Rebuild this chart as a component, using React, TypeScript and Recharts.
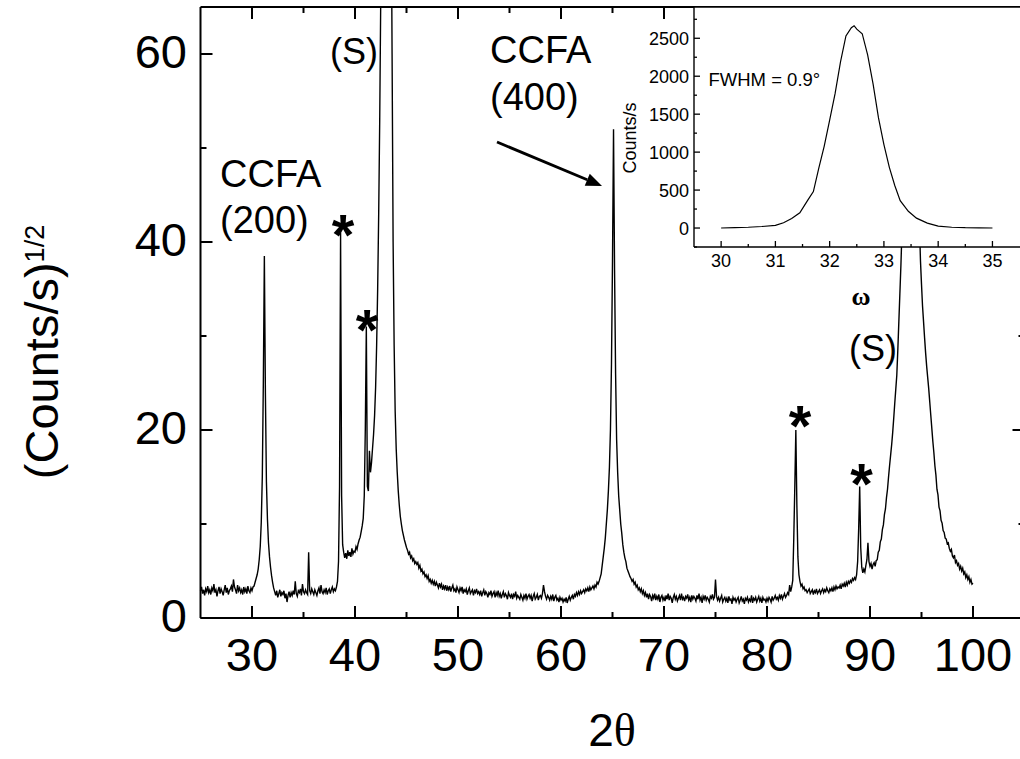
import { LineChart, Line, XAxis, YAxis, ReferenceLine, CartesianGrid } from 'recharts'

// XRD 2θ scan, sqrt(counts/s) on a 0.1° grid from 25° to 100°
const scanStart = 25
const scanStep = 0.1

const sqrt25to30 = [
  2.9, 3.3, 2.6, 3.0, 2.4, 3.1, 2.8, 3.4, 2.7, 3.0,
  2.5, 3.2, 2.9, 3.6, 2.7, 3.0, 2.3, 2.9, 3.3, 2.6,
  3.1, 2.8, 2.4, 3.0, 3.5, 2.7, 3.2, 2.5, 2.9, 3.1,
  3.4, 2.8, 4.1, 3.3, 3.0, 2.6, 3.5, 2.9, 3.2, 2.7,
  3.0, 2.5, 3.3, 2.8, 3.1, 2.6, 3.4, 2.9, 2.7, 3.2,
]
const sqrt30to35 = [
  2.9, 3.3, 3.4, 3.8, 4.2, 4.6, 5.2, 6.2, 7.6, 10.2,
  15, 25, 38.5, 24, 14.5, 10.5, 8, 6.5, 5.4, 4.5,
  3.8, 3.2, 2.8, 2.4, 2.9, 2.2, 2.6, 3.0, 2.3, 2.7,
  2.5, 2.9, 2.1, 2.6, 1.7, 2.4, 2.8, 2.2, 2.7, 2.4,
  2.9, 2.5, 3.9, 2.6, 2.3, 2.9, 2.7, 3.1, 2.4, 3.6,
]
const sqrt35to40 = [
  2.8, 2.6, 3.0, 2.7, 2.5, 7.0, 2.9, 2.6, 3.1, 2.8,
  2.5, 3.0, 2.7, 2.4, 2.9, 3.2, 2.6, 3.5, 2.8, 2.6,
  3.0, 2.7, 3.2, 2.5, 2.9, 3.1, 2.6, 3.0, 3.3, 2.8,
  3.1, 2.9, 3.3, 3.9, 6.0, 14, 41, 13, 7.8, 7.0,
  6.4, 6.9, 6.3, 7.2, 6.6, 7.0, 6.5, 7.4, 6.8, 7.1,
]
const sqrt40to45 = [
  7.0, 7.6, 7.3, 7.9, 8.3, 8.6, 9.2, 9.8, 10.6, 13,
  20, 31, 14, 13.5, 17.8, 15.5, 16.5, 18, 19.5, 21.5,
  24.5, 29, 35, 43, 53, 66, 82, 105, 140, 190,
  240, 250, 220, 170, 120, 80, 60, 40, 29, 22,
  18, 15.5, 13.5, 12, 10.8, 10, 9.3, 8.8, 8.3, 7.9,
]
const sqrt45to50 = [
  7.5, 7.2, 6.8, 7.0, 6.4, 6.6, 6.1, 6.3, 5.8, 6.0,
  5.7, 5.9, 5.3, 5.6, 5.0, 5.2, 4.7, 4.9, 4.4, 4.6,
  4.2, 4.5, 3.9, 4.1, 3.7, 4.0, 3.6, 3.9, 3.4, 3.8,
  3.5, 3.2, 3.7, 3.3, 3.6, 3.0, 3.4, 3.1, 3.5, 2.9,
  3.3, 3.0, 3.4, 2.8, 3.2, 3.5, 2.9, 3.1, 2.7, 3.3,
]
const sqrt50to55 = [
  3.0, 2.7, 3.2, 2.9, 3.3, 2.6, 3.0, 2.8, 3.1, 2.5,
  2.9, 3.2, 2.6, 2.8, 3.0, 2.4, 2.9, 2.7, 3.1, 2.6,
  2.8, 2.5, 2.9, 2.3, 2.7, 3.0, 2.4, 2.8, 2.6, 2.2,
  2.7, 2.5, 2.9, 2.3, 2.6, 2.8, 2.2, 2.7, 2.4, 2.9,
  2.3, 2.6, 2.1, 2.5, 2.8, 2.2, 2.6, 2.4, 2.0, 2.7,
]
const sqrt55to60 = [
  2.4, 2.2, 2.6, 2.0, 2.5, 2.3, 2.8, 2.1, 2.4, 2.2,
  2.0, 2.5, 2.2, 1.9, 2.4, 2.1, 2.6, 2.0, 2.3, 2.5,
  2.1, 2.4, 1.8, 2.3, 2.6, 2.0, 2.2, 2.5, 1.9, 2.3,
  2.4, 2.1, 2.6, 3.5, 2.8, 2.3, 2.0, 2.4, 2.2, 1.9,
  2.3, 2.0, 2.5, 1.8, 2.2, 2.4, 1.9, 2.1, 1.7, 2.2,
]
const sqrt60to65 = [
  1.9, 2.1, 1.7, 2.0, 1.8, 2.2, 1.6, 2.0, 2.3, 1.9,
  2.2, 2.4, 2.0, 2.5, 2.3, 2.7, 2.4, 2.8, 2.5, 2.9,
  2.6, 2.8, 3.0, 2.7, 3.1, 2.9, 3.2, 2.8, 3.3, 3.0,
  3.2, 3.4, 3.1, 3.5, 3.3, 3.8, 3.6, 3.9, 4.3, 4.7,
  5.6, 6.5, 7.4, 8.5, 10, 11.5, 13.5, 16, 20, 27,
]
const sqrt65to70 = [
  38, 52, 37, 26, 19, 15.5, 13, 11.5, 10, 9,
  7.8, 7.0, 6.4, 6.0, 5.3, 5.0, 4.7, 4.4, 4.2, 3.9,
  4.1, 3.6, 3.8, 3.3, 3.5, 3.0, 3.2, 2.8, 3.1, 2.6,
  2.9, 2.4, 2.7, 2.2, 2.6, 2.0, 2.5, 2.3, 1.8, 2.4,
  2.1, 2.6, 1.9, 2.3, 2.0, 2.5, 1.7, 2.2, 2.4, 1.9,
]
const sqrt70to75 = [
  2.2, 1.8, 2.4, 2.0, 2.6, 1.9, 2.3, 2.1, 1.6, 2.2,
  2.5, 2.0, 2.3, 1.8, 2.1, 2.4, 1.9, 2.6, 2.0, 2.2,
  1.8, 2.3, 2.1, 2.5, 1.9, 2.2, 1.7, 2.4, 2.0, 2.3,
  2.1, 1.8, 2.4, 2.0, 2.6, 1.9, 2.2, 1.6, 2.3, 2.0,
  2.4, 1.9, 2.2, 2.0, 1.7, 2.3, 2.1, 2.5, 2.0, 2.2,
]
const sqrt75to80 = [
  4.1, 2.3, 1.9, 2.2, 1.8, 2.1, 2.4, 1.7, 2.0, 2.2,
  1.8, 2.1, 1.6, 2.3, 1.9, 2.0, 1.5, 2.2, 1.9, 2.1,
  1.7, 2.0, 2.2, 1.6, 1.9, 2.3, 1.8, 2.0, 1.5, 2.1,
  1.9, 2.2, 1.7, 2.0, 1.8, 2.4, 1.6, 2.1, 1.9, 2.2,
  1.7, 2.0, 2.3, 1.8, 2.1, 1.6, 2.2, 1.9, 2.0, 1.7,
]
const sqrt80to85 = [
  2.1, 1.8, 2.2, 2.0, 1.7, 2.3, 1.9, 2.1, 2.4, 2.0,
  2.2, 1.9, 2.4, 2.1, 2.5, 2.0, 2.3, 2.6, 2.2, 2.4,
  2.7, 2.5, 3.5, 2.8, 3.3, 4.0, 8.5, 14, 20, 12,
  6.5, 4.6, 3.9, 3.4, 3.6, 3.1, 3.3, 2.9, 3.0, 2.7,
  2.9, 3.1, 2.6, 2.8, 3.0, 2.5, 2.9, 2.7, 3.1, 2.6,
]
const sqrt85to90 = [
  2.8, 3.0, 2.6, 2.9, 3.1, 2.7, 3.0, 2.8, 3.2, 2.9,
  2.7, 3.1, 2.9, 3.2, 2.8, 3.3, 3.0, 3.4, 3.1, 3.3,
  3.2, 3.5, 3.1, 3.6, 3.4, 3.7, 3.3, 3.8, 3.5, 3.9,
  3.7, 4.0, 3.8, 4.2, 4.0, 4.3, 4.1, 4.6, 6.0, 9.5,
  14, 7.5, 5.4, 4.8, 5.2, 4.9, 5.6, 6.2, 8.0, 6.0,
]
const sqrt90to95 = [
  5.5, 5.8, 5.2, 5.7, 5.9, 5.5, 6.1, 6.2, 7.0, 7.2,
  8.1, 8.4, 9.4, 9.9, 11.0, 11.6, 12.8, 13.7, 15.0, 16.2,
  17.3, 18.4, 19.7, 21.2, 22.8, 24.3, 25.8, 28.5, 31.5, 34.5,
  37.5, 41, 46, 53, 62, 75, 90, 110, 130, 145,
  150, 145, 130, 112, 92, 75, 60, 50, 42, 38,
]
const sqrt95to100 = [
  35.5, 33.2, 31.5, 29.8, 28.2, 26.8, 25.6, 24.4, 23.0, 21.6,
  20.2, 18.8, 17.6, 16.2, 15.2, 13.7, 13.1, 11.8, 11.4, 10.4,
  10.1, 9.3, 9.1, 8.5, 8.4, 7.9, 8.0, 7.4, 7.1, 7.3,
  6.6, 6.4, 6.7, 5.9, 6.1, 5.6, 5.8, 5.2, 5.5, 5.0,
  5.3, 4.7, 4.9, 4.3, 4.6, 4.1, 4.4, 3.8, 4.1, 3.6,
  3.7,
]

const sqrtCounts = [
  ...sqrt25to30, ...sqrt30to35, ...sqrt35to40, ...sqrt40to45, ...sqrt45to50,
  ...sqrt50to55, ...sqrt55to60, ...sqrt60to65, ...sqrt65to70, ...sqrt70to75,
  ...sqrt75to80, ...sqrt80to85, ...sqrt85to90, ...sqrt90to95, ...sqrt95to100,
]

// inset: rocking curve of the (400) reflection
const omega = [
  30, 30.25, 30.5, 30.75, 31, 31.15, 31.3, 31.45, 31.6, 31.7, 31.8, 31.9,
  32.0, 32.1, 32.2, 32.3, 32.4, 32.45, 32.5, 32.6, 32.7, 32.8, 32.9, 33.0,
  33.1, 33.2, 33.3, 33.45, 33.6, 33.8, 34.0, 34.25, 34.5, 34.75, 35,
]
const rockingCounts = [
  0, 4, 10, 20, 35, 70, 125, 200, 370, 480, 790, 1080,
  1420, 1770, 2190, 2530, 2640, 2665, 2620, 2560, 2280, 1900, 1450, 1100,
  800, 560, 360, 220, 130, 65, 25, 10, 4, 2, 0,
]

const xTicks = [30, 35, 40, 45, 50, 55, 60, 65, 70, 75, 80, 85, 90, 95, 100]
const yTicks = [0, 10, 20, 30, 40, 50, 60]
const insetXTicks = [30, 30.5, 31, 31.5, 32, 32.5, 33, 33.5, 34, 34.5, 35]
const insetYTicks = [-250, 0, 250, 500, 750, 1000, 1250, 1500, 1750, 2000, 2250, 2500, 2750]

const scan = sqrtCounts.map((v, i) => ({ twoTheta: +(scanStart + i * scanStep).toFixed(1), v }))
const rocking = omega.map((w, i) => ({ omega: w, counts: rockingCounts[i] }))

const FONT = '"Liberation Sans", Arial, sans-serif'
const SERIF = '"Liberation Serif", "Times New Roman", serif'

const W = 1030
const H = 759
const PLOT_TOP = 7
const PLOT_BOTTOM = 618
const PLOT_LEFT = 200.5
const PLOT_RIGHT = 1024.5
const INSET_LEFT = 694
const INSET_BOTTOM = 247
const INSET_RIGHT = 1025

function MainXTick({ x, y, payload }: any) {
  const v = payload.value
  const major = v % 10 === 0
  const len = major ? 12 : 6
  return (
    <g>
      <line x1={x} y1={y} x2={x} y2={y - len} stroke="#000" strokeWidth={2} />
      <line x1={x} y1={PLOT_TOP} x2={x} y2={PLOT_TOP + len} stroke="#000" strokeWidth={2} />
      {major && (
        <text x={x} y={y + 53} textAnchor="middle" fontSize={47} fontFamily={FONT} fill="#000">
          {v}
        </text>
      )}
    </g>
  )
}

function MainYTick({ x, y, payload }: any) {
  const v = payload.value
  const major = v % 20 === 0
  const len = major ? 12 : 6
  return (
    <g>
      <line x1={x} y1={y} x2={x + len} y2={y} stroke="#000" strokeWidth={2} />
      <line x1={PLOT_RIGHT} y1={y} x2={PLOT_RIGHT - len} y2={y} stroke="#000" strokeWidth={2} />
      {major && (
        <text x={x - 13.5} y={y + 14} textAnchor="end" fontSize={47} fontFamily={FONT} fill="#000">
          {v}
        </text>
      )}
    </g>
  )
}

function InsetXTick({ x, y, payload }: any) {
  const v = payload.value
  const major = v % 1 === 0
  return (
    <g>
      <line x1={x} y1={y} x2={x} y2={y - (major ? 6 : 3)} stroke="#000" strokeWidth={1.3} />
      {major && (
        <text x={x} y={y + 20} textAnchor="middle" fontSize={18} fontFamily={FONT} fill="#000">
          {v}
        </text>
      )}
    </g>
  )
}

function InsetYTick({ x, y, payload }: any) {
  const v = payload.value
  const major = v % 500 === 0
  return (
    <g>
      <line x1={x} y1={y} x2={x + (major ? 6 : 3)} y2={y} stroke="#000" strokeWidth={1.3} />
      {major && (
        <text x={x - 5} y={y + 6.5} textAnchor="end" fontSize={18} fontFamily={FONT} fill="#000">
          {v}
        </text>
      )}
    </g>
  )
}

function Arrow({ x1, y1, x2, y2 }: { x1: number; y1: number; x2: number; y2: number }) {
  const dx = x2 - x1
  const dy = y2 - y1
  const len = Math.hypot(dx, dy)
  const ux = dx / len
  const uy = dy / len
  const bx = x2 - ux * 16
  const by = y2 - uy * 16
  return (
    <g>
      <line x1={x1} y1={y1} x2={bx} y2={by} stroke="#000" strokeWidth={2.8} />
      <polygon
        points={`${x2},${y2} ${bx - uy * 6.5},${by + ux * 6.5} ${bx + uy * 6.5},${by - ux * 6.5}`}
        fill="#000"
      />
    </g>
  )
}

const labelStyle = { fontFamily: FONT, fill: '#000' }

export default function App() {
  return (
    <div style={{ position: 'fixed', left: 0, top: 0, width: 1020, height: 759, overflow: 'hidden', background: '#fff' }}>
      <div style={{ position: 'absolute', left: 0, top: 0 }}>
        <LineChart
          width={W}
          height={H}
          data={scan}
          margin={{ top: PLOT_TOP, right: W - PLOT_RIGHT, bottom: 0, left: 0 }}
        >
          <XAxis
            dataKey="twoTheta"
            type="number"
            domain={[25, 105]}
            ticks={xTicks}
            interval={0}
            height={H - PLOT_BOTTOM}
            tickSize={0}
            tickMargin={0}
            tickLine={false}
            axisLine={{ stroke: '#000', strokeWidth: 2 }}
            tick={(p: any) => <MainXTick {...p} />}
          />
          <YAxis
            type="number"
            domain={[0, 65]}
            allowDataOverflow
            ticks={yTicks}
            interval={0}
            width={PLOT_LEFT}
            tickSize={0}
            tickMargin={0}
            tickLine={false}
            axisLine={{ stroke: '#000', strokeWidth: 2 }}
            tick={(p: any) => <MainYTick {...p} />}
          />
          <ReferenceLine y={65} stroke="#000" strokeWidth={2} />
          <ReferenceLine x={105} stroke="#000" strokeWidth={2} />
          <Line
            type="linear"
            dataKey="v"
            stroke="#000"
            strokeWidth={1.4}
            dot={false}
            isAnimationActive={false}
          />
        </LineChart>
      </div>

      <div style={{ position: 'absolute', left: 0, top: 0 }}>
        <LineChart
          width={W}
          height={H}
          data={rocking}
          margin={{ top: PLOT_TOP, right: W - INSET_RIGHT, bottom: 0, left: 0 }}
        >
          <CartesianGrid fill="#fff" stroke="none" horizontal={false} vertical={false} />
          <XAxis
            dataKey="omega"
            type="number"
            domain={[29.5, 35.6]}
            ticks={insetXTicks}
            interval={0}
            height={H - INSET_BOTTOM}
            tickSize={0}
            tickMargin={0}
            tickLine={false}
            axisLine={{ stroke: '#000', strokeWidth: 1.4 }}
            tick={(p: any) => <InsetXTick {...p} />}
          />
          <YAxis
            type="number"
            domain={[-250, 2912]}
            allowDataOverflow
            ticks={insetYTicks}
            interval={0}
            width={INSET_LEFT}
            tickSize={0}
            tickMargin={0}
            tickLine={false}
            axisLine={{ stroke: '#000', strokeWidth: 1.4 }}
            tick={(p: any) => <InsetYTick {...p} />}
          />
          <ReferenceLine y={2912} stroke="#000" strokeWidth={1.4} />
          <Line
            type="linear"
            dataKey="counts"
            stroke="#000"
            strokeWidth={1.2}
            dot={false}
            isAnimationActive={false}
          />
        </LineChart>
      </div>

      <svg
        width={1020}
        height={759}
        style={{ position: 'absolute', left: 0, top: 0, pointerEvents: 'none' }}
      >
        {/* axis titles */}
        <text x={612} y={746} textAnchor="middle" fontSize={46} {...labelStyle}>
          2<tspan fontFamily={SERIF}>θ</tspan>
        </text>
        <text
          x={58}
          y={352}
          textAnchor="middle"
          fontSize={47}
          transform="rotate(-90, 58, 352)"
          {...labelStyle}
        >
          (Counts/s)
          <tspan fontSize={27} dy={-14}>1/2</tspan>
        </text>

        {/* peak labels */}
        <text x={220} y={187} fontSize={38} {...labelStyle}>CCFA</text>
        <text x={220} y={233} fontSize={38} {...labelStyle}>(200)</text>
        <text x={330} y={64} fontSize={36} {...labelStyle}>(S)</text>
        <text x={490} y={63} fontSize={38} {...labelStyle}>CCFA</text>
        <text x={490} y={110} fontSize={38} {...labelStyle}>(400)</text>
        <text x={849} y={361} fontSize={36} {...labelStyle}>(S)</text>
        <text x={343} y={255} textAnchor="middle" fontSize={58} fontWeight="bold" {...labelStyle}>*</text>
        <text x={367} y={350} textAnchor="middle" fontSize={58} fontWeight="bold" {...labelStyle}>*</text>
        <text x={800} y={446} textAnchor="middle" fontSize={58} fontWeight="bold" {...labelStyle}>*</text>
        <text x={861.5} y={504} textAnchor="middle" fontSize={58} fontWeight="bold" {...labelStyle}>*</text>
        <Arrow x1={497} y1={142} x2={602} y2={186} />

        {/* inset labels */}
        <text x={708.5} y={86} fontSize={18.5} {...labelStyle}>FWHM = 0.9°</text>
        <text
          x={636}
          y={138}
          textAnchor="middle"
          fontSize={18}
          transform="rotate(-90, 636, 138)"
          {...labelStyle}
        >
          Counts/s
        </text>
        <text x={861} y={305} textAnchor="middle" fontSize={26} fontWeight="bold" fontFamily={SERIF} fill="#000">
          ω
        </text>
      </svg>
    </div>
  )
}
